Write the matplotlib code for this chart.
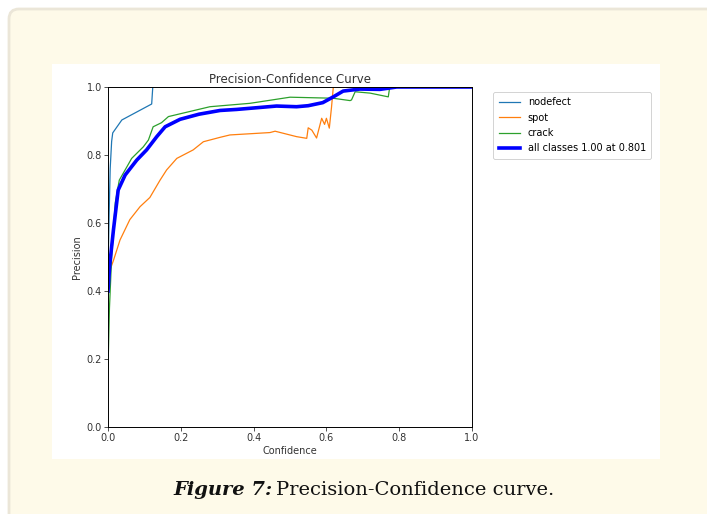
import matplotlib
matplotlib.use("Agg")
import matplotlib.pyplot as plt
import matplotlib.patches as mpatches
from matplotlib.path import Path

# precision-confidence points
nodefect_conf = [0.0, 0.003, 0.006, 0.01, 0.013, 0.038, 0.12, 0.123, 1.0]
nodefect_prec = [0.45, 0.62, 0.76, 0.84, 0.865, 0.903, 0.95, 1.0, 1.0]

spot_conf = [0.0, 0.005, 0.015, 0.033, 0.06, 0.088, 0.115, 0.143, 0.161, 0.189,
             0.234, 0.262, 0.308, 0.335, 0.445, 0.459, 0.518, 0.546, 0.55, 0.56,
             0.573, 0.587, 0.595, 0.6, 0.608, 0.614, 0.619, 1.0]
spot_prec = [0.44, 0.46, 0.49, 0.55, 0.61, 0.648, 0.675, 0.726, 0.756, 0.79,
             0.815, 0.839, 0.852, 0.859, 0.866, 0.87, 0.854, 0.849, 0.88, 0.873,
             0.85, 0.908, 0.89, 0.908, 0.879, 0.94, 1.0, 1.0]

crack_conf = [0.0, 0.004, 0.01, 0.02, 0.031, 0.047, 0.065, 0.097, 0.111, 0.124,
              0.147, 0.166, 0.28, 0.39, 0.5, 0.618, 0.665, 0.669, 0.679, 0.72,
              0.77, 0.774, 1.0]
crack_prec = [0.17, 0.35, 0.5, 0.66, 0.726, 0.756, 0.79, 0.824, 0.844, 0.883,
              0.895, 0.913, 0.942, 0.952, 0.97, 0.967, 0.96, 0.962, 0.986, 0.982,
              0.971, 1.0, 1.0]

all_conf = [0.0, 0.005, 0.015, 0.028, 0.047, 0.079, 0.106, 0.134, 0.157, 0.198,
            0.25, 0.308, 0.353, 0.463, 0.518, 0.55, 0.59, 0.619, 0.646, 0.692,
            0.747, 0.793, 1.0]
all_prec = [0.40, 0.48, 0.58, 0.697, 0.741, 0.785, 0.815, 0.854, 0.883, 0.905,
            0.92, 0.931, 0.934, 0.944, 0.942, 0.945, 0.954, 0.971, 0.988, 0.994,
            0.993, 1.0, 1.0]

W, H = 707, 514
fig = plt.figure(figsize=(W / 100, H / 100), dpi=100)
fig.patch.set_facecolor("white")

# cream panel, only the top-left corner is inside the picture (display pixels)
verts = [(9, -20), (9, 495), (9, 505), (19, 505), (900, 505), (900, -20), (9, -20)]
codes = [Path.MOVETO, Path.LINETO, Path.CURVE3, Path.CURVE3, Path.LINETO,
         Path.LINETO, Path.CLOSEPOLY]
panel = mpatches.PathPatch(Path(verts, codes), transform=None, facecolor="#fefae9",
                           edgecolor="#ebe6d8", linewidth=2, zorder=0)
fig.patches.append(panel)

# white picture area
fig.patches.append(mpatches.Rectangle((52 / W, (H - 459) / H), 608 / W, 395 / H,
                                      transform=fig.transFigure,
                                      facecolor="white", edgecolor="none", zorder=1))

ax = fig.add_axes([108 / W, (H - 427) / H, 364 / W, 340 / H])
ax.set_zorder(2)
ax.plot(nodefect_conf, nodefect_prec, lw=0.9, color="#1f77b4", label="nodefect")
ax.plot(spot_conf, spot_prec, lw=0.9, color="#ff7f0e", label="spot")
ax.plot(crack_conf, crack_prec, lw=0.9, color="#2ca02c", label="crack")
ax.plot(all_conf, all_prec, lw=2.6, color="blue", label="all classes 1.00 at 0.801")

ax.set_xlim(0, 1)
ax.set_ylim(0, 1)
ax.set_xticks([0, 0.2, 0.4, 0.6, 0.8, 1.0])
ax.set_yticks([0, 0.2, 0.4, 0.6, 0.8, 1.0])
ax.tick_params(labelsize=7, length=3, width=0.6, pad=1.5, colors="#333333")
for s in ax.spines.values():
    s.set_linewidth(0.7)
ax.set_xlabel("Confidence", fontsize=7, labelpad=2, color="#333333")
ax.set_ylabel("Precision", fontsize=7, labelpad=3, color="#333333")
ax.set_title("Precision-Confidence Curve", fontsize=8.5, pad=3, color="#333333")
leg = ax.legend(loc="upper left", bbox_to_anchor=(1.045, 1.0), fontsize=7,
                handlelength=2.2, labelspacing=0.55, borderpad=0.55, framealpha=1)
leg.get_frame().set_linewidth(0.6)

# caption
fig.canvas.draw()
r = fig.canvas.get_renderer()
t1 = fig.text(173 / W, (H - 495) / H, "Figure 7:", fontsize=14, family="DejaVu Serif",
              weight="bold", style="italic", color="#111111")
bb = t1.get_window_extent(renderer=r)
fig.text((bb.x1 + 4) / W, (H - 495) / H, "Precision-Confidence curve.", fontsize=14,
         family="DejaVu Serif", color="#111111")

fig.savefig("out.png", dpi=100)
